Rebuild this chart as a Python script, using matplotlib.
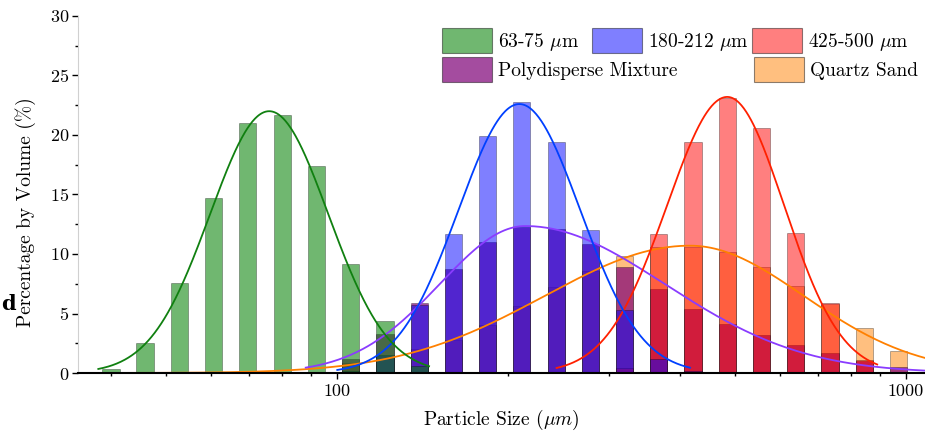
import numpy as np
import matplotlib
matplotlib.use("Agg")
import matplotlib.pyplot as plt
from matplotlib.patches import Patch
from matplotlib.ticker import FixedLocator, NullFormatter

# ---------------- data ----------------
sizes = [40.0, 45.9, 52.8, 60.6, 69.6, 80.0, 91.9, 105.6, 121.3, 139.3, 160.0, 183.8,
         211.1, 242.5, 278.6, 320.0, 367.6, 422.2, 485.0, 557.2, 640.0, 735.2, 844.5, 970.1]

green_vals = [0.3, 2.5, 7.6, 14.7, 21.0, 21.7, 17.4, 9.2, 4.4, 0.6, 0, 0,
              0, 0, 0, 0, 0, 0, 0, 0, 0, 0, 0, 0]
blue_vals = [0, 0, 0, 0, 0, 0, 0, 0.2, 1.5, 5.7, 11.7, 19.9,
             22.8, 19.4, 12.0, 5.3, 1.2, 0.2, 0, 0, 0, 0, 0, 0]
red_vals = [0, 0, 0, 0, 0, 0, 0, 0, 0, 0, 0, 0,
            0, 0, 0, 0.4, 11.7, 19.4, 23.1, 20.6, 11.8, 5.9, 1.1, 0.1]
poly_vals = [0, 0, 0, 0, 0, 0, 0.1, 1.15, 3.25, 5.9, 8.7, 11.0,
             12.3, 12.1, 10.8, 8.9, 7.1, 5.4, 4.1, 3.2, 2.35, 1.7, 1.05, 0.5]
sand_vals = [0, 0, 0, 0, 0, 0, 0, 0.8, 1.4, 2.0, 2.8, 4.0,
             5.6, 7.2, 8.6, 9.8, 10.6, 10.6, 10.2, 8.9, 7.3, 5.8, 3.75, 1.85]

# fitted curves: peak height, peak size (um), log10 width left / right, drawn range (um)
green_fit = [22.0, 75.9, 0.104, 0.104, 38, 145]
blue_fit = [22.6, 209.0, 0.107, 0.107, 100, 417]
red_fit = [23.2, 485.0, 0.106, 0.100, 243, 890]
poly_fit = [12.35, 214.0, 0.150, 0.245, 88, 1080]
sand_fit = [10.7, 417.0, 0.255, 0.200, 35, 1080]

labels = [r"63-75 $\mu$m", r"180-212 $\mu$m", r"425-500 $\mu$m",
          "Polydisperse Mixture", "Quartz Sand"]

# ---------------- style ----------------
plt.rcParams["font.family"] = ["cmr10", "DejaVu Serif"]
plt.rcParams["mathtext.fontset"] = "cm"
plt.rcParams["axes.formatter.use_mathtext"] = True
FS = 14
TFS = 13

fig = plt.figure(figsize=(9.25, 4.33), dpi=100)
ax = fig.add_axes([78 / 925, 60 / 433, 847 / 925, 357 / 433])

sizes_a = np.array(sizes)
step = 2 ** 0.05
lefts = sizes_a / step
widths = sizes_a * step - lefts

GREEN = (0.0, 0.5, 0.0)
BLUE = (0.0, 0.0, 1.0)
RED = (1.0, 0.0, 0.0)
PURPLE = (126 / 255, 0.0, 119 / 255)
ORANGE = (1.0, 0.5, 0.0)

series = [
    (sand_vals, ORANGE, 0.5, 1),
    (poly_vals, PURPLE, 0.7, 2),
    (red_vals, RED, 0.5, 3),
    (blue_vals, BLUE, 0.5, 4),
    (green_vals, GREEN, 0.56, 5),
]
for vals, col, a, z in series:
    ax.bar(lefts, vals, width=widths, align="edge",
           color=col + (a,), edgecolor=(0, 0, 0, 0.35), linewidth=0.6, zorder=z)


def curve(p):
    peak, centre, sl, sr, lo, hi = p
    xs = np.logspace(np.log10(lo), np.log10(hi), 400)
    d = np.log10(xs) - np.log10(centre)
    s = np.where(d < 0, sl, sr)
    return xs, peak * np.exp(-d ** 2 / (2 * s ** 2))


line_cols = ["#FF8000", "#8A3CFF", "#FF2000", "#0040FF", "#108010"]
for p, c, z in zip([sand_fit, poly_fit, red_fit, blue_fit, green_fit], line_cols, range(6, 11)):
    xs, ys = curve(p)
    ax.plot(xs, ys, color=c, lw=1.3, zorder=z)

ax.set_xscale("log")
ax.set_xlim(35, 1080)
ax.set_ylim(0, 30)

ax.xaxis.set_major_locator(FixedLocator([100, 1000]))
ax.set_xticklabels(["100", "1000"])
ax.xaxis.set_minor_locator(FixedLocator([40, 50, 60, 70, 80, 90, 200, 300, 400, 500, 600, 700, 800, 900]))
ax.xaxis.set_minor_formatter(NullFormatter())
ax.set_yticks([0, 5, 10, 15, 20, 25, 30])
ax.yaxis.set_minor_locator(FixedLocator(np.arange(2.5, 30, 5)))

ax.tick_params(axis="both", which="major", direction="out", labelsize=TFS, length=4, width=1.0)
ax.tick_params(axis="both", which="minor", direction="out", length=2.5, width=1.0)
ax.tick_params(axis="x", which="major", pad=4)
ax.tick_params(axis="y", which="major", pad=2.5)

for s in ("top", "right"):
    ax.spines[s].set_visible(False)
ax.spines["left"].set_color("#d0d0d0")
ax.spines["bottom"].set_linewidth(1.5)
ax.spines["bottom"].set_zorder(20)

ax.set_xlabel(r"Particle Size $(\mu m)$", fontsize=FS, labelpad=6)
ax.set_ylabel("Percentage by Volume (%)", fontsize=FS)
ax.yaxis.set_label_coords(-0.049, 0.452)

# legends: one entry each, placed where the reference shows them
def patch(col, a):
    return Patch(facecolor=col + (a,), edgecolor=(0, 0, 0, 0.45), linewidth=0.8)

kw = dict(frameon=False, fontsize=FS, handlelength=2.57, handleheight=1.6,
          handletextpad=0.3, borderpad=0, borderaxespad=0, loc="upper left")
entries = [
    (GREEN, 0.56, labels[0], 442, 28),
    (BLUE, 0.5, labels[1], 592, 28),
    (RED, 0.5, labels[2], 752, 28),
    (PURPLE, 0.7, labels[3], 442, 57),
    (ORANGE, 0.5, labels[4], 754, 57),
]
for col, a, lab, px, py in entries:
    fig.legend([patch(col, a)], [lab], bbox_to_anchor=(px / 925, 1 - py / 433), **kw)

# panel label fragment at the far left
fig.text(1 / 925, 1 - 304 / 433, "d", fontsize=15, fontweight="bold",
         ha="left", va="center", family="DejaVu Serif")

fig.savefig("out.png", dpi=100)
